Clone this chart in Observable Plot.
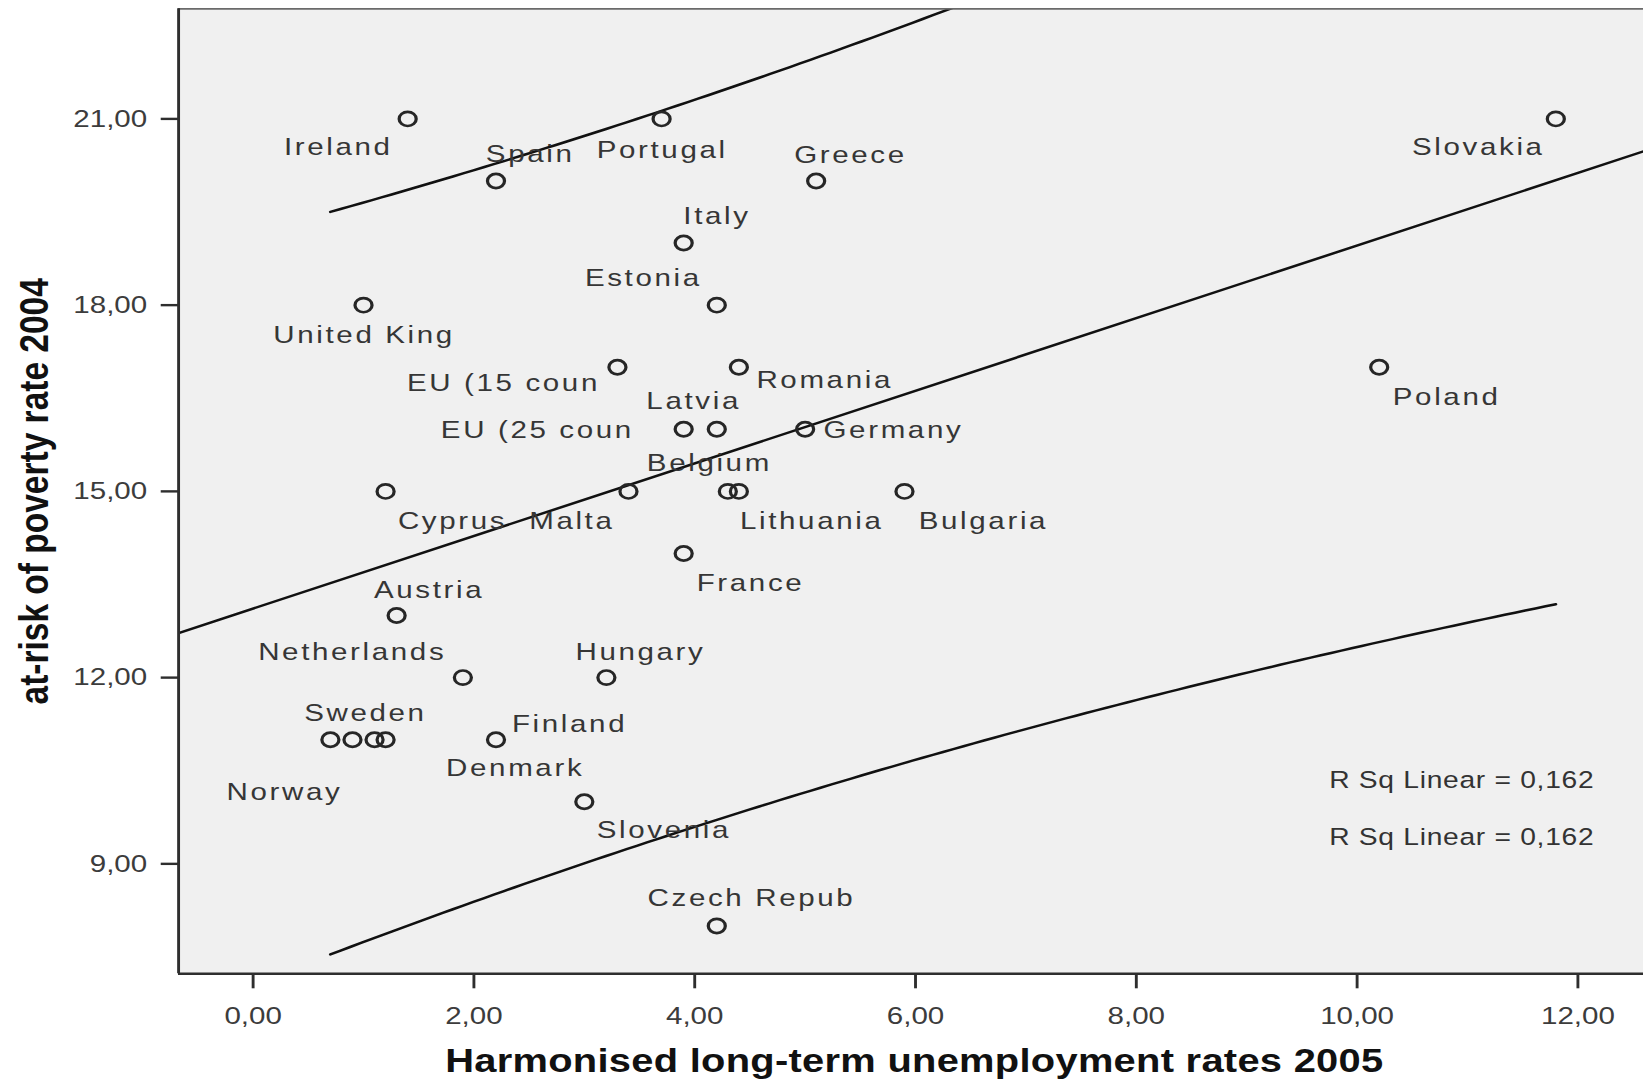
<!DOCTYPE html>
<html>
<head>
<meta charset="utf-8">
<script src="https://cdn.jsdelivr.net/npm/d3@7"></script>
<script src="https://cdn.jsdelivr.net/npm/@observablehq/plot@0.6"></script>
<style>
  html, body { margin: 0; padding: 0; background: #fff; overflow: hidden; }
</style>
</head>
<body>
<div id="chart"></div>
<script>
// ---------------- data ----------------
const countries = ["Ireland","Spain","Portugal","Greece","Italy","Estonia","United King","EU (15 coun","Romania","Poland","Slovakia","EU (25 coun","Latvia","Germany","Cyprus","Malta","Belgium","Lithuania","Bulgaria","France","Austria","Netherlands","Hungary","","Norway","Denmark","Sweden","Finland","Slovenia","Czech Repub"];
const unemployment2005 = [1.4,2.2,3.7,5.1,3.9,4.2,1.0,3.3,4.4,10.2,11.8,3.9,4.2,5.0,1.2,3.4,4.3,4.4,5.9,3.9,1.3,1.9,3.2,0.7,0.9,1.1,1.2,2.2,3.0,4.2];
const povertyRate2004 = [21,20,21,20,19,18,18,17,17,17,21,16,16,16,15,15,15,15,15,14,13,12,12,11,11,11,11,11,10,8];
const xTicks = [0,2,4,6,8,10,12];
const yTicks = [9,12,15,18,21];
const xTitle = "Harmonised long-term unemployment rates 2005";
const yTitle = "at-risk of poverty rate 2004";
const fitName = "R Sq Linear";
const predictionLevel = 0.90;

// ---------------- layout (label offsets, px) ----------------
const labelOffsets = {
  "Ireland": [-57.8, 28.4], "Spain": [28.5, -27], "Portugal": [0.5, 30.9], "Greece": [28.6, -26.2],
  "Italy": [27.8, -26.6], "Estonia": [-61.2, -26.9], "United King": [0.5, 29.7], "EU (15 coun": [-95, 16],
  "Romania": [71.5, 12.6], "Poland": [56.2, 30.1], "Slovakia": [-64.6, 28.1], "EU (25 coun": [-121.9, 0.5],
  "Latvia": [-19.3, -27.8], "Germany": [73.6, 0.5], "Cyprus": [55.8, 30.1], "Malta": [-47.2, 30.1],
  "Belgium": [-15.4, -28.2], "Lithuania": [60.7, 29.8], "Bulgaria": [65.8, 29.8], "France": [55.7, 29.2],
  "Austria": [27, -25.7], "Netherlands": [-92.2, -25.6], "Hungary": [28.4, -25.3], "Sweden": [-16.8, -26.5],
  "Norway": [-56.7, 52.3], "Denmark": [117.2, 28.5], "Finland": [61.3, -15.7], "Slovenia": [66.3, 28],
  "Czech Repub": [28.9, -27.7]
};

// ---------------- geometry ----------------
const W = 1643, H = 1081;
const S = 1.2;                 // horizontal stretch of the reference rendering
const xDomain = [-0.675, 12.595];
const yDomain = [7.229, 22.7735];

const fmt = v => d3.format(".2f")(v).replace(".", ",");
const fmt3 = v => d3.format(".3f")(v).replace(".", ",");

const data = countries.map((c, i) => ({label: c, x: unemployment2005[i], y: povertyRate2004[i]}));

// ---------------- regression ----------------
function lgamma(z) {
  const g = 7, c = [0.99999999999980993, 676.5203681218851, -1259.1392167224028, 771.32342877765313,
    -176.61502916214059, 12.507343278686905, -0.13857109526572012, 9.9843695780195716e-6, 1.5056327351493116e-7];
  if (z < 0.5) return Math.log(Math.PI / Math.sin(Math.PI * z)) - lgamma(1 - z);
  z -= 1; let a = c[0]; const t = z + g + 0.5;
  for (let i = 1; i < 9; i++) a += c[i] / (z + i);
  return 0.5 * Math.log(2 * Math.PI) + (z + 0.5) * Math.log(t) - t + Math.log(a);
}
function tCdf(t, v) {
  const k = Math.exp(lgamma((v + 1) / 2) - lgamma(v / 2)) / Math.sqrt(v * Math.PI);
  const N = 1000, h = t / N; let s = 0;
  for (let i = 0; i <= N; i++) {
    const u = i * h, f = k * Math.pow(1 + u * u / v, -(v + 1) / 2);
    s += (i === 0 || i === N) ? f : (i % 2 ? 4 * f : 2 * f);
  }
  return 0.5 + s * h / 3;
}
function tQuantile(p, v) {
  let lo = 0, hi = 20;
  for (let i = 0; i < 60; i++) { const m = (lo + hi) / 2; if (tCdf(m, v) < p) lo = m; else hi = m; }
  return (lo + hi) / 2;
}
const n = data.length;
const mx = d3.mean(data, d => d.x), my = d3.mean(data, d => d.y);
const sxx = d3.sum(data, d => (d.x - mx) ** 2);
const sxy = d3.sum(data, d => (d.x - mx) * (d.y - my));
const syy = d3.sum(data, d => (d.y - my) ** 2);
const slope = sxy / sxx, intercept = my - slope * mx;
const r2 = sxy * sxy / (sxx * syy);
const se = Math.sqrt((syy - slope * sxy) / (n - 2));
const tCrit = tQuantile(1 - (1 - predictionLevel) / 2, n - 2);
const [xmin, xmax] = d3.extent(data, d => d.x);
const fitLine = xDomain.map(x => ({x, y: intercept + slope * x}));
const curveXs = d3.range(0, 121).map(i => xmin + (xmax - xmin) * i / 120);
const half = x => tCrit * se * Math.sqrt(1 + 1 / n + (x - mx) ** 2 / sxx);
const upperBand = curveXs.map(x => ({x, y: intercept + slope * x + half(x)}));
const lowerBand = curveXs.map(x => ({x, y: intercept + slope * x - half(x)}));
const rsqText = `${fitName} = ${fmt3(r2)}`;

// ---------------- marks ----------------
const lineStyle = {x: "x", y: "y", stroke: "#111", strokeWidth: 2.5, clip: true};
const labelMarks = data.filter(d => d.label).map(d => {
  const [dx, dy] = labelOffsets[d.label] || [0, 0];
  return Plot.text([d], {x: "x", y: "y", text: "label", dx, dy, fontSize: 24.6, fill: "#363636", lineAnchor: "middle"});
});

const svg = Plot.plot({
  width: W / S,
  height: H,
  marginLeft: 148.33,
  marginRight: 0,
  marginTop: 8.3,
  marginBottom: H - 973.3,
  x: {domain: xDomain},
  y: {domain: yDomain},
  style: {fontFamily: "'Liberation Sans', Arial, sans-serif", background: "white"},
  marks: [
    Plot.frame({fill: "#f0f0f0", stroke: "none"}),
    Plot.line(fitLine, lineStyle),
    Plot.line(upperBand, lineStyle),
    Plot.line(lowerBand, lineStyle),
    Plot.dot(data, {x: "x", y: "y", r: 7.1, stroke: "#262626", strokeWidth: 2.7, fill: "none"}),
    ...labelMarks,
    Plot.ruleY([yDomain[1]], {stroke: "#6a6a6a", strokeWidth: 1.8}),
    Plot.ruleX([xDomain[0]], {stroke: "#2e2e2e", strokeWidth: 2.4}),
    Plot.ruleY([yDomain[0]], {stroke: "#2e2e2e", strokeWidth: 2.4}),
    Plot.axisX(xTicks, {tickFormat: fmt, tickSize: 15, tickPadding: 18, fontSize: 24.6, stroke: "#2e2e2e", strokeWidth: 2.4, fill: "#3c3c3c", label: null}),
    Plot.axisY(yTicks, {tickFormat: fmt, tickSize: 14.4, tickPadding: 11.8, fontSize: 24.6, stroke: "#2e2e2e", strokeWidth: 2.4, fill: "#3c3c3c", label: null}),
    Plot.text([xTitle], {frameAnchor: "bottom", lineAnchor: "middle", textAnchor: "middle", dx: 2.7, dy: 87.3, fontSize: 33.2, fontWeight: "bold", fill: "#111"}),
    Plot.text([yTitle], {frameAnchor: "left", lineAnchor: "middle", textAnchor: "middle", rotate: -90, dx: -119.7, fontSize: 33.5, fontWeight: "bold", fill: "#111"}),
    Plot.text([rsqText], {frameAnchor: "bottom-right", lineAnchor: "middle", textAnchor: "start", dx: -262, dy: -193.3, fontSize: 23.5, fill: "#333"}),
    Plot.text([rsqText], {frameAnchor: "bottom-right", lineAnchor: "middle", textAnchor: "start", dx: -262, dy: -136.8, fontSize: 23.5, fill: "#333"})
  ]
});

svg.setAttribute("width", W);
svg.setAttribute("height", H);
svg.setAttribute("preserveAspectRatio", "none");
svg.style.width = W + "px";
svg.style.height = H + "px";
svg.style.maxWidth = "none";
svg.style.display = "block";

const labelSet = new Set(countries.filter(Boolean));
d3.select(svg).selectAll("text")
  .filter(function () { return labelSet.has(this.textContent); })
  .style("letter-spacing", "2.2px");
d3.select(svg).selectAll("text")
  .filter(function () { return this.textContent === rsqText; })
  .style("letter-spacing", "0.6px");
d3.select(svg).selectAll("text")
  .filter(function () { return this.textContent === xTitle; })
  .style("letter-spacing", "0.25px");

document.getElementById("chart").appendChild(svg);
</script>
</body>
</html>
